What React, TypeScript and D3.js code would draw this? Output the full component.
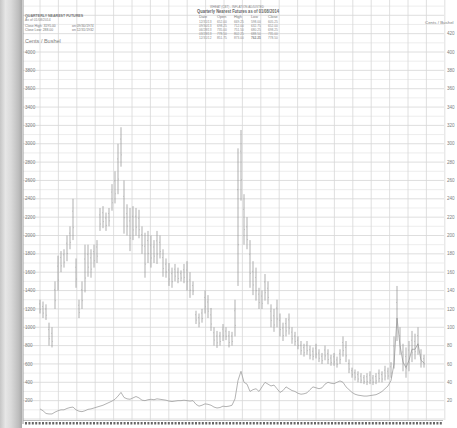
import React from "react";
import * as d3 from "d3";

// Upper series: inflation-adjusted high/low bars (cents / bushel)
const highs = [1300,1280,1250,1050,1000,1500,1780,1830,1850,2000,2100,2400,1750,1300,1500,1900,1900,1850,1900,1950,
2300,2320,2250,2300,2560,2700,3000,3180,2600,2340,2300,2320,2300,2280,2100,2030,2050,2000,1950,2050,
2000,1850,1750,1700,1650,1690,1650,1620,1690,1720,1600,1500,1180,1150,1200,1400,1350,1210,1000,960,
950,1035,1000,960,950,1300,2950,3150,2450,2200,1950,1720,1650,1430,1400,1580,1500,1250,1200,1300,
1150,1050,1100,1150,1000,950,900,850,820,850,800,780,820,760,720,800,760,700,720,680,
760,900,850,650,560,540,520,500,480,500,520,480,500,540,520,580,560,620,900,1450,
1000,820,780,850,960,930,1000,760,700];
const lows = [1150,1100,1080,800,780,1200,1400,1600,1650,1720,1850,1950,1430,1100,1200,1380,1550,1540,1650,1700,
2050,2080,2050,2100,2270,2350,2450,2750,2020,2000,1830,1950,2000,1970,1800,1540,1700,1650,1700,1690,
1750,1550,1540,1450,1430,1500,1480,1500,1480,1400,1320,1350,1035,1000,1050,1150,1100,960,800,775,
800,850,860,780,800,900,1450,2380,1900,1850,1430,1350,1290,1200,1200,1290,1250,1000,950,1000,
900,850,900,920,820,800,760,700,680,700,650,640,660,620,600,640,600,580,580,560,
600,680,620,500,450,420,400,390,380,370,380,370,380,400,400,420,430,450,550,850,
700,520,450,520,620,650,700,560,560];
// Lower series: nominal price line (cents / bushel)
const nominal = [110,90,60,55,55,75,90,100,100,115,125,130,100,85,80,90,105,110,120,130,
140,150,165,180,195,215,250,290,235,220,215,230,245,230,205,200,210,215,210,220,
215,210,205,195,190,195,200,200,205,200,195,200,160,140,150,165,160,150,130,120,
125,140,135,140,150,220,420,520,400,380,300,320,330,300,350,400,380,360,370,330,
290,310,350,330,310,300,280,270,275,285,320,350,340,330,340,380,400,390,385,400,
415,400,350,320,290,270,260,255,250,250,255,260,265,280,300,330,360,420,600,1100,
800,620,560,640,760,760,820,640,610];

const leftTicks = d3.range(200, 4001, 200);
const rightTicks = d3.range(200, 4201, 200);
const gridValues = d3.range(0, 4601, 100);

const tableHeader = ["Date", "Open", "High", "Low", "Close"];
const tableRows = [
  ["12/31/13", "652.00", "669.25", "598.00", "605.25"],
  ["09/30/13", "698.25", "712.00", "632.75", "652.00"],
  ["06/28/13", "735.00", "751.50", "680.25", "698.25"],
  ["03/28/13", "778.50", "802.25", "688.50", "735.00"],
  ["12/31/12", "851.75", "873.00", "762.25", "778.50"],
];

export default function App() {
  const W = 457, H = 428;
  const x = d3.scaleLinear().domain([0, highs.length - 1]).range([40, 424]);
  const y = d3.scaleLinear().domain([0, 4000]).range([419, 52]);
  const gridX = d3.scaleLinear().domain([0, 22]).range([40, 444.8]);
  const line = d3.line<number>().x((_, i) => x(i)).y((d) => y(d));
  const font = "'Liberation Sans', Arial, sans-serif";
  const txt = "#808080";
  const colX = [199, 217, 234, 251, 268];
  const stripTicks = d3.range(25, 442, 3.4);

  return (
    <svg width={W} height={H} style={{ position: "absolute", left: 0, top: 0 }} fontFamily={font}>
      <defs>
        <linearGradient id="binder" x1="0" x2="1" y1="0" y2="0">
          <stop offset="0" stopColor="#c6c6c6" />
          <stop offset="0.25" stopColor="#e6e6e6" />
          <stop offset="0.5" stopColor="#dadada" />
          <stop offset="0.85" stopColor="#bdbdbd" />
          <stop offset="1" stopColor="#a8a8a8" />
        </linearGradient>
      </defs>
      <rect width={W} height={H} fill="#ffffff" />
      {/* grid */}
      {gridValues.map((v) => (
        <line key={"h" + v} x1={23} x2={444} y1={y(v)} y2={y(v)}
          stroke={v % 200 === 0 ? "#d6d6d6" : "#e8e8e8"} strokeWidth={0.8} />
      ))}
      {d3.range(0, 23).map((k) => (
        <line key={"v" + k} x1={gridX(k)} x2={gridX(k)} y1={0} y2={420} stroke="#d8d8d8" strokeWidth={0.8} />
      ))}
      <line x1={23} x2={23} y1={0} y2={424} stroke="#9a9a9a" strokeWidth={1} />
      {/* binder shadow */}
      <rect x={0} y={0} width={22} height={H} fill="url(#binder)" />
      {/* bottom axis */}
      <line x1={23} x2={443} y1={420.5} y2={420.5} stroke="#aaa" strokeWidth={0.8} />
      {stripTicks.map((t, i) => (
        <rect key={"s" + i} x={t} y={422} width={2} height={2.5} fill="#666" />
      ))}
      {/* left axis labels */}
      {leftTicks.map((v) => (
        <text key={"l" + v} x={25} y={y(v)} dy="0.35em" fontSize={4.6} fill={txt}>{v}</text>
      ))}
      {/* right axis labels */}
      {rightTicks.map((v) => (
        <text key={"r" + v} x={447} y={y(v)} dy="0.35em" fontSize={4.6} fill={txt}>{v / 10}</text>
      ))}
      <text x={25} y={43} fontSize={5.5} fill={txt}>Cents / Bushel</text>
      <text x={425} y={24} fontSize={4.4} fill={txt}>Cents / Bushel</text>
      {/* header left */}
      <text x={25} y={17} fontSize={3.6} fill="#777" fontWeight="bold">QUARTERLY NEAREST FUTURES</text>
      <text x={25} y={21} fontSize={3.4} fill="#888">As of 01/08/2014</text>
      <text x={25} y={27} fontSize={3.4} fill="#777">Close High: 3195.00</text>
      <text x={72} y={27} fontSize={3.4} fill="#777">on 09/30/1974</text>
      <text x={25} y={31} fontSize={3.4} fill="#777">Close Low: 288.00</text>
      <text x={72} y={31} fontSize={3.4} fill="#777">on 12/31/1932</text>
      {/* header center */}
      <text x={237} y={8} fontSize={3} fill="#888" textAnchor="middle">WHEAT (CBT) - INFLATION ADJUSTED</text>
      <text x={238} y={13} fontSize={4.6} fill="#666" fontWeight="bold" textAnchor="middle" textLength={82} lengthAdjust="spacingAndGlyphs">Quarterly Nearest Futures as of 01/08/2014</text>
      {tableHeader.map((h, j) => (
        <text key={"th" + j} x={colX[j]} y={18} fontSize={3.8} fill="#777">{h}</text>
      ))}
      {tableRows.map((row, r) =>
        row.map((c, j) => (
          <text key={"td" + r + j} x={colX[j]} y={23 + r * 4} fontSize={3.2} fill="#888"
            fontWeight={r === 4 && j === 3 ? "bold" : "normal"}>{c}</text>
        ))
      )}
      {/* nominal line */}
      <path d={line(nominal) || ""} fill="none" stroke="#a0a0a0" strokeWidth={0.8} />
      {/* high-low bars */}
      {highs.map((h, i) => {
        const mid = (h + lows[i]) / 2;
        const off = (h - lows[i]) * 0.2;
        return (
          <g key={"b" + i}>
            <line x1={x(i)} x2={x(i)} y1={y(h)} y2={y(lows[i])} stroke="#8e8e8e" strokeWidth={0.7} />
            <line x1={x(i) - 1} x2={x(i)} y1={y(mid + off)} y2={y(mid + off)} stroke="#a8a8a8" strokeWidth={0.5} />
            <line x1={x(i)} x2={x(i) + 1} y1={y(mid - off)} y2={y(mid - off)} stroke="#a8a8a8" strokeWidth={0.5} />
          </g>
        );
      })}
    </svg>
  );
}
